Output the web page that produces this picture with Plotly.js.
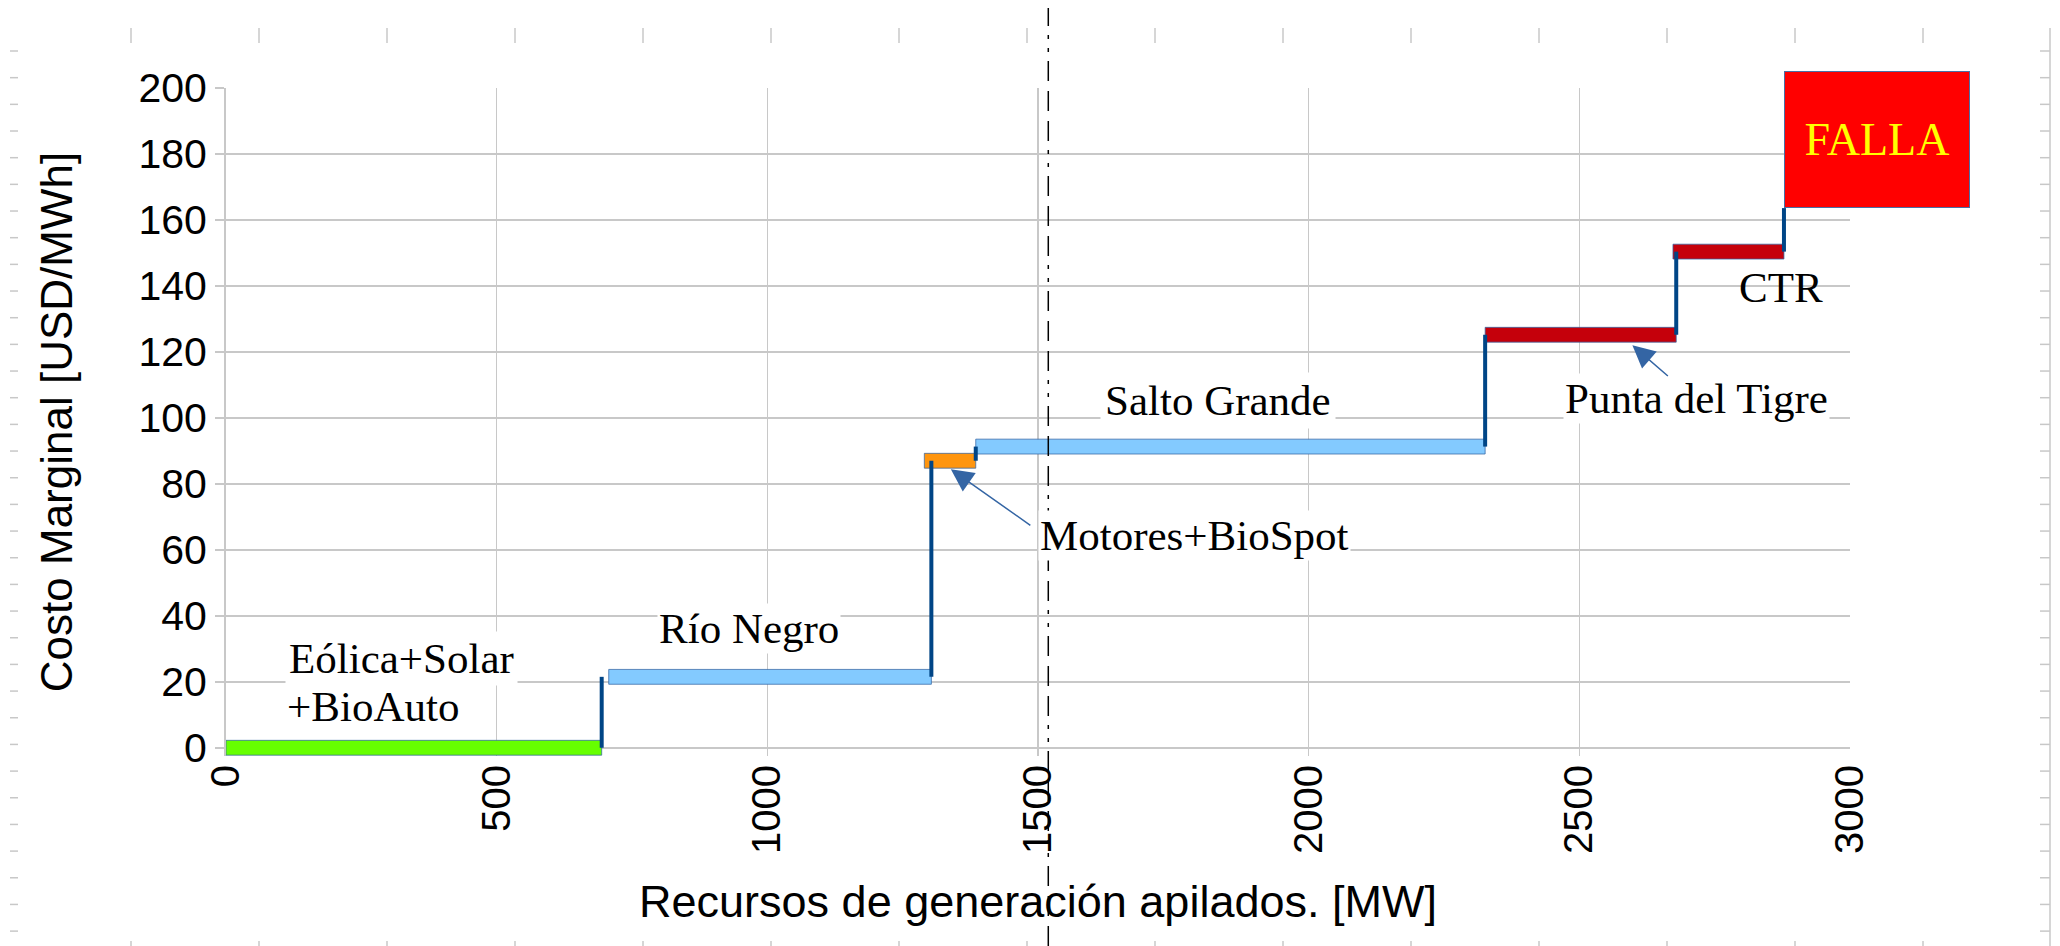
<!DOCTYPE html>
<html>
<head>
<meta charset="utf-8">
<script src="https://cdn.plot.ly/plotly-3.0.1.min.js"></script>
<style>
  body { margin: 0; background: #ffffff; }
  #curvaOferta { width: 2060px; height: 946px; }
</style>
</head>
<body>
<div id="curvaOferta"></div>
<script>
// Recursos de generación apilados (orden de mérito)
const recursos = ['Eólica+Solar+BioAuto', 'Río Negro', 'Motores+BioSpot', 'Salto Grande', 'Punta del Tigre', 'CTR'];

// Potencia acumulada al inicio y al final de cada bloque [MW]
const inicioMW = [0, 707, 1290, 1385, 2326, 2673];
const finMW = [694, 1303, 1385, 2326, 2679, 2878];

// Costo marginal de cada bloque [USD/MWh]
const costoMarginal = [0, 21.5, 87, 91.3, 125.2, 150.4];

// Colores de cada bloque
const coloresBloque = ['#66ff00', '#83caff', '#ff950e', '#83caff', '#c5000b', '#c5000b'];

// Falla y demanda
const fallaInicioMW = 2878;
const fallaCosto = 163.6;
const demandaMW = 1519;

// Geometria de la figura
const W = 2060, H = 946;
const M = { l: 226, r: 210, t: 88, b: 190 };
const plotW = W - M.l - M.r;
const plotH = H - M.t - M.b;
const pxX = px => (px - M.l) / plotW;
const pxY = py => (H - M.b - py) / plotH;

// Bloques horizontales (barras con base)
const bloques = {
    type: 'bar',
    orientation: 'h',
    y: costoMarginal,
    x: finMW.map((f, i) => f - inicioMW[i]),
    base: inicioMW,
    width: 4.5,
    text: recursos,
    textposition: 'none',
    marker: {
        color: coloresBloque,
        line: { color: 'rgba(52,101,164,0.75)', width: 1 },
    },
    hoverinfo: 'text',
    showlegend: false,
};

// Escalones verticales entre bloques
const escX = [], escY = [];
for (let i = 1; i < costoMarginal.length; i++) {
    escX.push(finMW[i - 1], finMW[i - 1], null);
    escY.push(costoMarginal[i - 1], costoMarginal[i], null);
}
escX.push(finMW[finMW.length - 1], finMW[finMW.length - 1]);
escY.push(costoMarginal[costoMarginal.length - 1], fallaCosto);

const escalones = {
    type: 'scatter',
    mode: 'lines',
    x: escX,
    y: escY,
    line: { color: '#004586', width: 4 },
    hoverinfo: 'skip',
    showlegend: false,
};

// Reglas de la hoja (decoracion de los bordes)
const gris = { color: '#c8c8c8', width: 1.5 };
const shapes = [];
for (let px = 131; px <= 1925; px += 128) {
    shapes.push({ type: 'line', xref: 'paper', yref: 'paper', x0: pxX(px), x1: pxX(px), y0: pxY(28), y1: pxY(43), line: gris });
    shapes.push({ type: 'line', xref: 'paper', yref: 'paper', x0: pxX(px), x1: pxX(px), y0: pxY(941), y1: pxY(946), line: gris });
}
for (let py = 51; py <= 935; py += 26.67) {
    shapes.push({ type: 'line', xref: 'paper', yref: 'paper', x0: pxX(10), x1: pxX(18), y0: pxY(py), y1: pxY(py), line: gris });
    shapes.push({ type: 'line', xref: 'paper', yref: 'paper', x0: pxX(2040), x1: pxX(2050), y0: pxY(py), y1: pxY(py), line: gris });
}
shapes.push({ type: 'line', xref: 'paper', yref: 'paper', x0: pxX(2050), x1: pxX(2050), y0: pxY(28), y1: pxY(946), line: gris });

// Linea de demanda (punto y raya)
shapes.push({
    type: 'line', xref: 'x', yref: 'paper',
    x0: demandaMW, x1: demandaMW, y0: pxY(946), y1: pxY(8),
    line: { color: '#000000', width: 1.5, dash: '20px,10px,20px,10px,20px,9px,4px,9px,4px,9px' },
});

const serif = { family: 'Liberation Serif', size: 43, color: '#000000' };

const annotations = [
    { x: 109, y: 27, xanchor: 'left', yanchor: 'middle', align: 'left', text: 'Eólica+Solar', showarrow: false, font: serif, bgcolor: '#ffffff', borderpad: 3 },
    { x: 109, y: 12.4, xanchor: 'left', yanchor: 'middle', align: 'left', text: '+BioAuto', showarrow: false, font: serif },
    { x: 966, y: 36.2, text: 'Río Negro', showarrow: false, font: serif, bgcolor: '#ffffff', borderpad: 1 },
    { x: 1500, y: 64.4, xanchor: 'left', text: 'Motores+BioSpot', showarrow: false, font: serif, bgcolor: '#ffffff', borderpad: 1 },
    { x: 1339, y: 84.4, text: '', showarrow: true, ax: 81, ay: 57, arrowhead: 2, arrowsize: 3, arrowwidth: 1.5, arrowcolor: '#3465a4' },
    { x: 1832, y: 105.4, text: 'Salto Grande', showarrow: false, font: serif, bgcolor: '#ffffff', borderpad: 4 },
    { x: 2716, y: 106, text: 'Punta del Tigre', showarrow: false, font: serif, bgcolor: '#ffffff', borderpad: 1 },
    { x: 2598, y: 122, text: '', showarrow: true, ax: 37, ay: 32, arrowhead: 2, arrowsize: 3, arrowwidth: 1.5, arrowcolor: '#3465a4' },
    { x: 2872, y: 139.5, text: 'CTR', showarrow: false, font: serif },
    {
        x: fallaInicioMW, y: fallaCosto, xanchor: 'left', yanchor: 'bottom',
        text: 'FALLA', showarrow: false, width: 184, height: 135, valign: 'middle',
        font: { family: 'Liberation Serif', size: 46, color: '#ffff00' },
        bgcolor: '#ff0000', bordercolor: '#4a6fa5', borderwidth: 1, borderpad: 0,
    },
];

const layout = {
    width: W,
    height: H,
    margin: { l: M.l, r: M.r, t: M.t, b: M.b, pad: 0 },
    paper_bgcolor: '#ffffff',
    plot_bgcolor: '#ffffff',
    font: { family: 'Liberation Sans', color: '#000000' },
    xaxis: {
        range: [0, 3000],
        tick0: 0,
        dtick: 500,
        tickangle: -90,
        tickfont: { size: 40 },
        ticks: '',
        showgrid: true,
        gridcolor: '#c8c8c8',
        gridwidth: 1.5,
        zeroline: false,
        showline: false,
        title: { text: 'Recursos de generación apilados. [MW]', font: { size: 45 }, standoff: 32 },
    },
    yaxis: {
        range: [-2.5, 200],
        tick0: 0,
        dtick: 20,
        tickfont: { size: 41 },
        ticks: 'outside',
        ticklen: 9,
        tickwidth: 1.5,
        tickcolor: '#c8c8c8',
        showgrid: true,
        gridcolor: '#c8c8c8',
        gridwidth: 1.5,
        zeroline: false,
        showline: true,
        linecolor: '#c8c8c8',
        linewidth: 2,
        title: { text: 'Costo Marginal [USD/MWh]', font: { size: 44 }, standoff: 52 },
    },
    shapes: shapes,
    annotations: annotations,
    showlegend: false,
};

Plotly.newPlot('curvaOferta', [bloques, escalones], layout, { displayModeBar: false, staticPlot: true });
</script>
</body>
</html>
